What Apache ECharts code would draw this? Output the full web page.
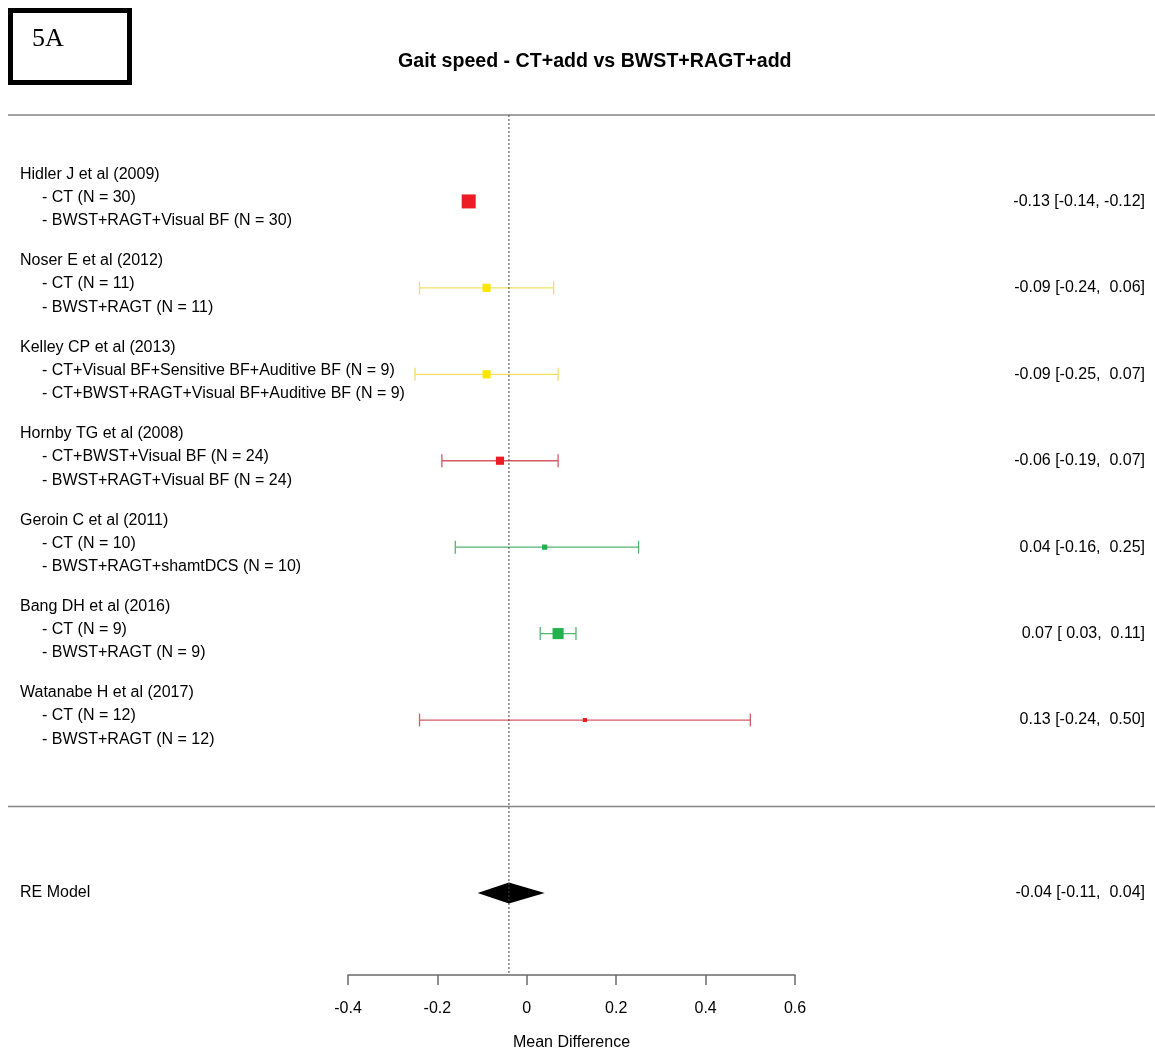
<!DOCTYPE html>
<html>
<head>
<meta charset="utf-8">
<script src="https://cdn.jsdelivr.net/npm/echarts@6/dist/echarts.min.js"></script>
<style>
  html, body { margin: 0; padding: 0; background: #fff; }
  #main { width: 1155px; height: 1052px; }
</style>
</head>
<body>
<div id="main"></div>
<script>
// ---------- data ----------
const studies = [
  'Hidler J et al (2009)',
  'Noser E et al (2012)',
  'Kelley CP et al (2013)',
  'Hornby TG et al (2008)',
  'Geroin C et al (2011)',
  'Bang DH et al (2016)',
  'Watanabe H et al (2017)'
];
const controlArms = [
  '- CT (N = 30)',
  '- CT (N = 11)',
  '- CT+Visual BF+Sensitive BF+Auditive BF (N = 9)',
  '- CT+BWST+Visual BF (N = 24)',
  '- CT (N = 10)',
  '- CT (N = 9)',
  '- CT (N = 12)'
];
const treatmentArms = [
  '- BWST+RAGT+Visual BF (N = 30)',
  '- BWST+RAGT (N = 11)',
  '- CT+BWST+RAGT+Visual BF+Auditive BF (N = 9)',
  '- BWST+RAGT+Visual BF (N = 24)',
  '- BWST+RAGT+shamtDCS (N = 10)',
  '- BWST+RAGT (N = 9)',
  '- BWST+RAGT (N = 12)'
];
const estimates = [-0.13, -0.09, -0.09, -0.06, 0.04, 0.07, 0.13];
const lowerCI   = [-0.14, -0.24, -0.25, -0.19, -0.16, 0.03, -0.24];
const upperCI   = [-0.12, 0.06, 0.07, 0.07, 0.25, 0.11, 0.50];
const weights   = [24, 14, 14, 14, 9, 19, 7];           // relative study weights (%)
const biasRisk  = ['high', 'some', 'some', 'high', 'low', 'low', 'high'];
const modelLabel = 'RE Model';
const modelEstimate = -0.04;
const modelLower = -0.11;
const modelUpper = 0.04;
const xTicks = [-0.4, -0.2, 0, 0.2, 0.4, 0.6];

// ---------- styles ----------
const palette = {
  high: { box: '#ec1c24', line: '#d35a63' },
  some: { box: '#fde600', line: '#efe065' },
  low:  { box: '#22b14c', line: '#55b472' }
};
const FONT = '"Liberation Sans", Arial, sans-serif';
const textFont = '16px ' + FONT;
const sizePerWeight = 14 / 24;
const capHalf = 6.5;

function fmt(v) { return v.toFixed(2).padStart(5, ' '); }
function ciText(e, l, u) { return e.toFixed(2) + ' [' + fmt(l) + ', ' + fmt(u) + ']'; }

const studyData = estimates.map((e, i) => [e, i, lowerCI[i], upperCI[i]]);
const modelRow = studies.length + 1;
const yMin = -1, yMax = 8.95;

const chart = echarts.init(document.getElementById('main'));

function txt(text, x, y, align) {
  return {
    type: 'text',
    style: {
      text: text, x: x, y: y, font: textFont, fill: '#000',
      textAlign: align, textVerticalAlign: 'middle',
      align: align, verticalAlign: 'middle'
    }
  };
}

const option = {
  animation: false,
  backgroundColor: '#fff',
  textStyle: { fontFamily: FONT },
  title: {
    text: 'Gait speed - CT+add vs BWST+RAGT+add',
    left: 398, top: 52, padding: 0,
    textStyle: { fontSize: 19.6, fontWeight: 'bold', color: '#000', fontFamily: FONT }
  },
  graphic: [
    { type: 'rect', shape: { x: 10.5, y: 10.5, width: 119, height: 72 },
      style: { fill: '#fff', stroke: '#000', lineWidth: 5 } },
    { type: 'text', left: 32, top: 26,
      style: { text: '5A', font: '26px "Liberation Serif", "Times New Roman", serif', fill: '#000' } }
  ],
  grid: { left: 348, right: 360, top: 115, bottom: 77, containLabel: false, outerBoundsMode: 'none' },
  xAxis: {
    type: 'value', min: xTicks[0], max: xTicks[xTicks.length - 1], interval: 0.2,
    splitLine: { show: false },
    axisLine: { show: true, onZero: false, lineStyle: { color: '#6b6b6b', width: 1.5 } },
    axisTick: { show: true, length: 10, lineStyle: { color: '#6b6b6b', width: 1.5 } },
    axisLabel: { fontSize: 16, color: '#000', margin: 26, fontFamily: FONT },
    name: 'Mean Difference', nameLocation: 'middle', nameGap: 60,
    nameTextStyle: { fontSize: 16, color: '#000', fontFamily: FONT }
  },
  yAxis: { type: 'value', inverse: true, min: yMin, max: yMax, show: false },
  series: [
    {
      type: 'custom', name: 'separators', silent: true, clip: false,
      data: [[0, yMin], [0, studies.length]],
      renderItem: function (params, api) {
        const y = api.coord([0, api.value(1)])[1];
        return { type: 'line', shape: { x1: 8, y1: y, x2: api.getWidth(), y2: y },
          style: { stroke: '#858585', lineWidth: 1.5 } };
      }
    },
    {
      type: 'line', name: 'ref', silent: true, symbol: 'none',
      data: [[modelEstimate, yMin], [modelEstimate, yMax]],
      lineStyle: { color: '#444', width: 1, type: [2, 2] }
    },
    {
      type: 'custom', name: 'studies', clip: false,
      data: studyData,
      renderItem: function (params, api) {
        const i = params.dataIndex;
        const row = api.value(1);
        const c = api.coord([api.value(0), row]);
        const l = api.coord([api.value(2), row]);
        const u = api.coord([api.value(3), row]);
        const col = palette[biasRisk[i]];
        const s = weights[i] * sizePerWeight;
        const y = c[1];
        return {
          type: 'group',
          children: [
            { type: 'line', shape: { x1: l[0], y1: y, x2: u[0], y2: y }, style: { stroke: col.line, lineWidth: 1.3 } },
            { type: 'line', shape: { x1: l[0], y1: y - capHalf, x2: l[0], y2: y + capHalf }, style: { stroke: col.line, lineWidth: 1.3 } },
            { type: 'line', shape: { x1: u[0], y1: y - capHalf, x2: u[0], y2: y + capHalf }, style: { stroke: col.line, lineWidth: 1.3 } },
            { type: 'rect', shape: { x: c[0] - s / 2, y: y - s / 2, width: s, height: s }, style: { fill: col.box } },
            txt(studies[i], 20, y - 27, 'left'),
            txt(controlArms[i], 42, y - 4, 'left'),
            txt(treatmentArms[i], 42, y + 19.5, 'left'),
            txt(ciText(estimates[i], lowerCI[i], upperCI[i]), 1145, y, 'right')
          ]
        };
      }
    },
    {
      type: 'custom', name: 'model', clip: false,
      data: [[modelEstimate, modelRow, modelLower, modelUpper]],
      renderItem: function (params, api) {
        const row = api.value(1);
        const c = api.coord([api.value(0), row]);
        const l = api.coord([api.value(2), row]);
        const u = api.coord([api.value(3), row]);
        const h = 10.5;
        return {
          type: 'group',
          children: [
            { type: 'polygon', shape: { points: [[l[0], c[1]], [c[0], c[1] - h], [u[0], c[1]], [c[0], c[1] + h]] },
              style: { fill: '#000' } },
            txt(modelLabel, 20, c[1], 'left'),
            txt(ciText(modelEstimate, modelLower, modelUpper), 1145, c[1], 'right')
          ]
        };
      }
    }
  ]
};
chart.setOption(option);
</script>
</body>
</html>
